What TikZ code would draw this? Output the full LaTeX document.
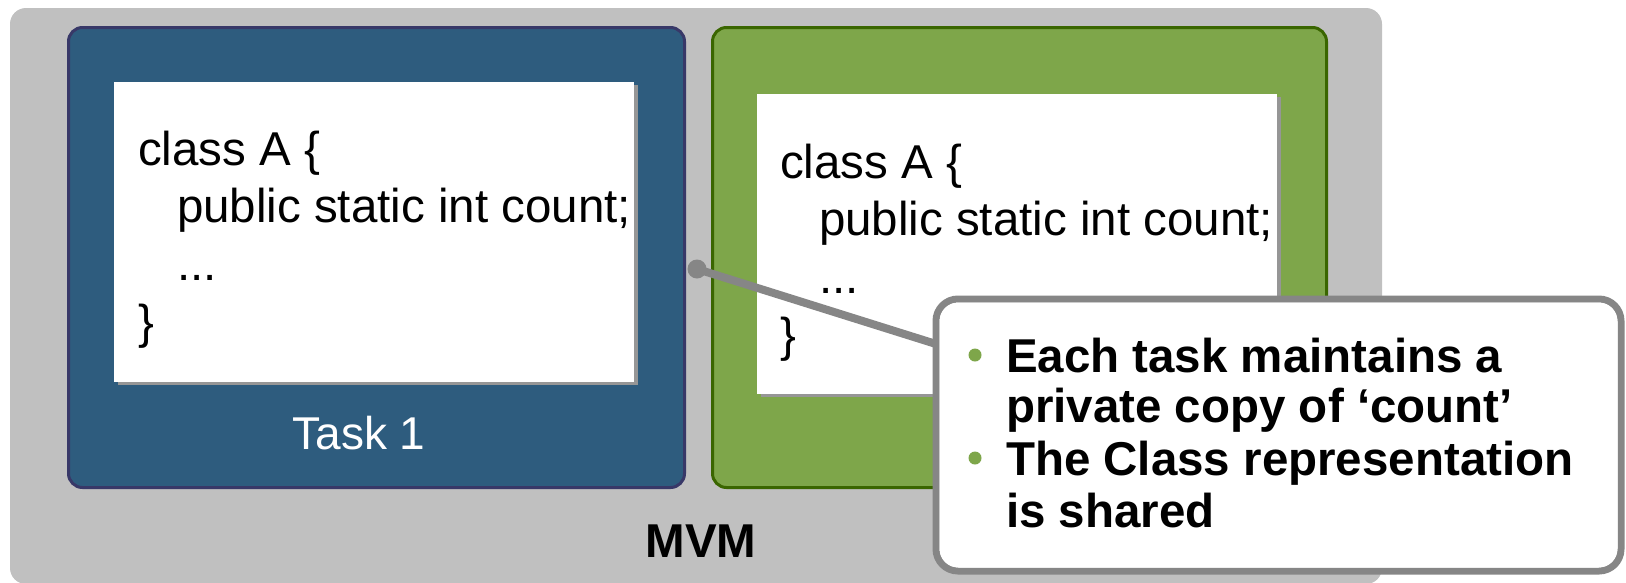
\documentclass[tikz,border=0pt]{standalone}
\usepackage{fontspec}
\setmainfont{Liberation Sans}
\usetikzlibrary{calc}

\definecolor{mvmgray}{RGB}{192,192,192}
\definecolor{taskblue}{RGB}{46,92,126}
\definecolor{taskblueedge}{RGB}{56,56,104}
\definecolor{taskgreen}{RGB}{126,166,74}
\definecolor{taskgreenedge}{RGB}{58,102,0}
\definecolor{calloutgray}{RGB}{134,134,134}
\definecolor{shadowgray}{RGB}{150,150,150}

\begin{document}
\begin{tikzpicture}[x=1pt,y=-1pt,
  every node/.style={inner sep=0pt, outer sep=0pt},
  panel/.style={rectangle, rounded corners=14pt, line width=3pt,
    minimum height=460},
  codecard/.style={rectangle, fill=white, minimum width=520, minimum height=300},
  cardshadow/.style={rectangle, fill=shadowgray, minimum width=520, minimum height=300},
  codeline/.style={anchor=base west, font=\fontsize{47.5}{56}\selectfont},
  noteline/.style={anchor=base west, font=\fontsize{47.5}{56}\selectfont\bfseries},
  bulletdot/.style={circle, fill=taskgreen, minimum size=13},
]
\useasboundingbox (0,0) rectangle (1626,582);

% virtual machine area
\node[rectangle, rounded corners=16pt, fill=mvmgray,
      minimum width=1372, minimum height=576] (mvm) at (696,296) {};

% the two tasks
\node[panel, fill=taskblue, draw=taskblueedge, minimum width=616] (task1) at (376.5,257.5) {};
\node[panel, fill=taskgreen, draw=taskgreenedge, minimum width=614] (task2) at (1019.5,257.5) {};

% code cards with their drop shadows
\node[cardshadow] (shadow1) at (378,235) {};
\node[codecard] (card1) at (374,232) {};
\node[cardshadow] (shadow2) at (1021,247) {};
\node[codecard] (card2) at (1017,244) {};

% class source in task 1
\node[codeline] (a1) at (138,165) {class A \{};
\node[codeline] (a2) at (177,222) {public static int count;};
\node[codeline] (a3) at (177,280) {...};
\node[codeline] (a4) at (138,338) {\}};

% class source in task 2
\node[codeline] (b1) at (780,178) {class A \{};
\node[codeline] (b2) at (819,235) {public static int count;};
\node[codeline] (b3) at (819,293) {...};
\node[codeline] (b4) at (780,351) {\}};

% labels
\node[anchor=base, text=white, font=\fontsize{46}{56}\selectfont] (t1label) at (359,449) {Task 1};
\node[anchor=base, font=\fontsize{47.5}{56}\selectfont\bfseries] (mvmlabel) at (701,557) {MVM};

% callout with its pointer
\node[circle, fill=calloutgray, minimum size=19] (pin) at (697,269) {};
\node[rectangle, rounded corners=22pt, draw=calloutgray, line width=7pt, fill=white,
      minimum width=685, minimum height=272] (callout) at (1278.5,435) {};
\draw[calloutgray, line width=8pt] (pin.center) -- (callout.west |- 0,344);
\node[rectangle, rounded corners=19pt, fill=white,
      minimum width=678, minimum height=265] (calloutface) at (1278.5,435) {};

% callout text
\node[bulletdot] (dot1) at (975,355) {};
\node[noteline] (n1) at (1006,372) {Each task maintains a};
\node[noteline] (n2) at (1006,422) {private copy of ‘count’};
\node[bulletdot] (dot2) at (975,458) {};
\node[noteline] (n3) at (1006,475) {The Class representation};
\node[noteline] (n4) at (1006,527) {is shared};
\end{tikzpicture}
\end{document}
